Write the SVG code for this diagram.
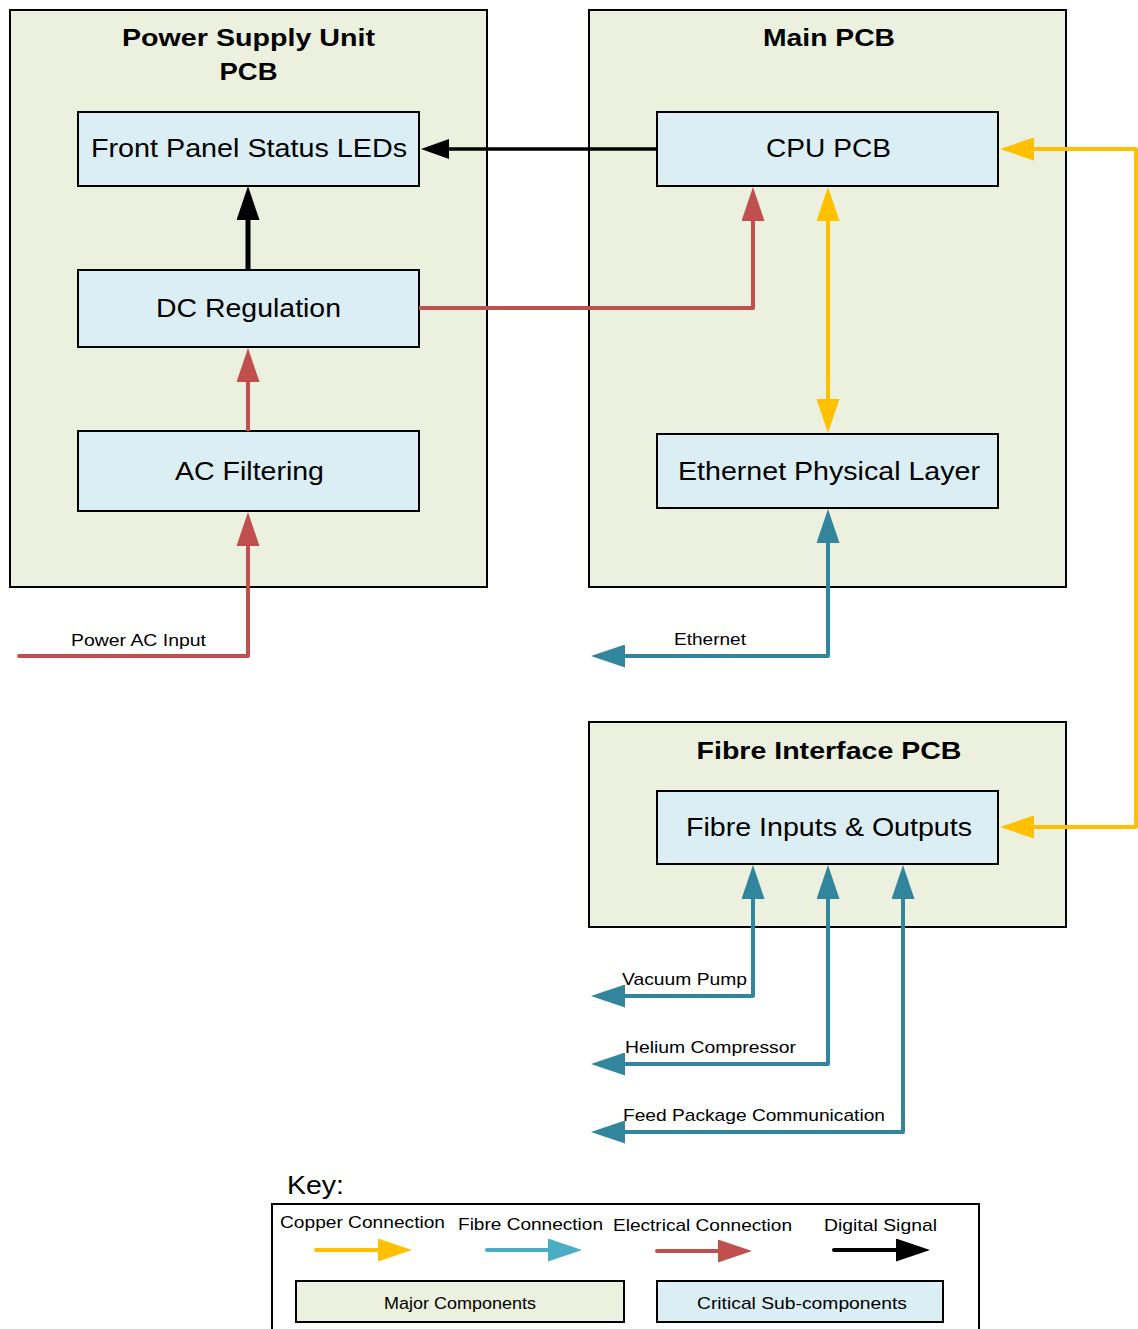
<svg xmlns="http://www.w3.org/2000/svg" width="1138" height="1329" viewBox="0 0 1138 1329">
  <style>
    .major { fill: #EBF1DE; stroke: #000; stroke-width: 2; }
    .sub { fill: #DBEEF4; stroke: #000; stroke-width: 2; }
    .title { font-family: "Liberation Sans", Arial, sans-serif; font-weight: bold; font-size: 24px; fill: #000; text-anchor: middle; }
    .label { font-family: "Liberation Sans", Arial, sans-serif; font-size: 26px; fill: #000; text-anchor: middle; }
    .small { font-family: "Liberation Sans", Arial, sans-serif; font-size: 17px; fill: #000; }
    .keyt { font-family: "Liberation Sans", Arial, sans-serif; font-size: 17px; fill: #000; }
    .wire { fill: none; stroke-width: 4; stroke-linejoin: round; }
    .copper { stroke: #FFC000; }
    .fibre { stroke: #31859C; }
    .fibre-key { stroke: #4BACC6; }
    .elec { stroke: #C0504D; }
    .digital { stroke: #000; }
  </style>
  <defs>
    <marker id="ah-copper" viewBox="0 0 34 23" markerWidth="34" markerHeight="23" refX="1" refY="11.5" markerUnits="userSpaceOnUse" orient="auto-start-reverse">
      <path d="M0,0 L34,11.5 L0,23 z" fill="#FFC000"/>
    </marker>
    <marker id="ah-fibre" viewBox="0 0 34 23" markerWidth="34" markerHeight="23" refX="1" refY="11.5" markerUnits="userSpaceOnUse" orient="auto-start-reverse">
      <path d="M0,0 L34,11.5 L0,23 z" fill="#31859C"/>
    </marker>
    <marker id="ah-fibre-key" viewBox="0 0 34 23" markerWidth="34" markerHeight="23" refX="1" refY="11.5" markerUnits="userSpaceOnUse" orient="auto-start-reverse">
      <path d="M0,0 L34,11.5 L0,23 z" fill="#4BACC6"/>
    </marker>
    <marker id="ah-elec" viewBox="0 0 34 23" markerWidth="34" markerHeight="23" refX="1" refY="11.5" markerUnits="userSpaceOnUse" orient="auto-start-reverse">
      <path d="M0,0 L34,11.5 L0,23 z" fill="#C0504D"/>
    </marker>
    <marker id="ah-digital" viewBox="0 0 34 23" markerWidth="34" markerHeight="23" refX="1" refY="11.5" markerUnits="userSpaceOnUse" orient="auto-start-reverse">
      <path d="M0,0 L34,11.5 L0,23 z" fill="#000"/>
    </marker>
    <marker id="ah-digital-s" viewBox="0 0 28 20" markerWidth="28" markerHeight="20" refX="1" refY="10" markerUnits="userSpaceOnUse" orient="auto-start-reverse">
      <path d="M0,0 L28,10 L0,20 z" fill="#000"/>
    </marker>
  </defs>

  <rect width="1138" height="1329" fill="#fff"/>

  <!-- Major components (containers) -->
  <g id="psu-pcb">
    <rect class="major" x="10" y="10" width="477" height="577"/>
    <text class="title" x="248.5" y="46" textLength="253" lengthAdjust="spacingAndGlyphs">Power Supply Unit</text>
    <text class="title" x="248.5" y="80" textLength="58" lengthAdjust="spacingAndGlyphs">PCB</text>
  </g>
  <g id="main-pcb">
    <rect class="major" x="589" y="10" width="477" height="577"/>
    <text class="title" x="829" y="46" textLength="132" lengthAdjust="spacingAndGlyphs">Main PCB</text>
  </g>
  <g id="fibre-pcb">
    <rect class="major" x="589" y="722" width="477" height="205"/>
    <text class="title" x="829" y="759" textLength="265" lengthAdjust="spacingAndGlyphs">Fibre Interface PCB</text>
  </g>

  <!-- Critical sub-components -->
  <g id="front-panel-leds">
    <rect class="sub" x="78" y="112" width="341" height="74"/>
    <text class="label" x="249" y="157" textLength="316" lengthAdjust="spacingAndGlyphs">Front Panel Status LEDs</text>
  </g>
  <g id="dc-regulation">
    <rect class="sub" x="78" y="270" width="341" height="77"/>
    <text class="label" x="248.5" y="317" textLength="185" lengthAdjust="spacingAndGlyphs">DC Regulation</text>
  </g>
  <g id="ac-filtering">
    <rect class="sub" x="78" y="431" width="341" height="80"/>
    <text class="label" x="249.5" y="480" textLength="149" lengthAdjust="spacingAndGlyphs">AC Filtering</text>
  </g>
  <g id="cpu-pcb">
    <rect class="sub" x="657" y="112" width="341" height="74"/>
    <text class="label" x="828.5" y="157" textLength="125" lengthAdjust="spacingAndGlyphs">CPU PCB</text>
  </g>
  <g id="ethernet-phy">
    <rect class="sub" x="657" y="434" width="341" height="74"/>
    <text class="label" x="829" y="480" textLength="302" lengthAdjust="spacingAndGlyphs">Ethernet Physical Layer</text>
  </g>
  <g id="fibre-io">
    <rect class="sub" x="657" y="791" width="341" height="73"/>
    <text class="label" x="829" y="836" textLength="286" lengthAdjust="spacingAndGlyphs">Fibre Inputs &amp; Outputs</text>
  </g>

  <!-- Connectors -->
  <g id="connectors">
    <path class="wire digital" style="stroke-width:3.5" d="M657,149 L448,149" marker-end="url(#ah-digital-s)"/>
    <path class="wire digital" style="stroke-width:5" d="M248,270 L248,219" marker-end="url(#ah-digital)"/>
    <path class="wire elec" d="M419,308 L753,308 L753,220" marker-end="url(#ah-elec)"/>
    <path class="wire elec" d="M248,431 L248,381" marker-end="url(#ah-elec)"/>
    <path class="wire elec" style="stroke-linecap:round" d="M19,656 L248,656 L248,545" marker-end="url(#ah-elec)"/>
    <path class="wire copper" d="M828,220 L828,400" marker-start="url(#ah-copper)" marker-end="url(#ah-copper)"/>
    <path class="wire copper" d="M1033,149 L1136,149 L1136,827 L1033,827" marker-start="url(#ah-copper)" marker-end="url(#ah-copper)"/>
    <path class="wire fibre" d="M828,542 L828,656 L624,656" marker-start="url(#ah-fibre)" marker-end="url(#ah-fibre)"/>
    <path class="wire fibre" d="M753,898 L753,996 L624,996" marker-start="url(#ah-fibre)" marker-end="url(#ah-fibre)"/>
    <path class="wire fibre" d="M828,898 L828,1064 L624,1064" marker-start="url(#ah-fibre)" marker-end="url(#ah-fibre)"/>
    <path class="wire fibre" d="M903,898 L903,1132 L624,1132" marker-start="url(#ah-fibre)" marker-end="url(#ah-fibre)"/>

    <text class="small" x="71" y="646" textLength="135" lengthAdjust="spacingAndGlyphs">Power AC Input</text>
    <text class="small" x="674" y="645" textLength="72" lengthAdjust="spacingAndGlyphs">Ethernet</text>
    <text class="small" x="622" y="985" textLength="125" lengthAdjust="spacingAndGlyphs">Vacuum Pump</text>
    <text class="small" x="625" y="1053" textLength="171" lengthAdjust="spacingAndGlyphs">Helium Compressor</text>
    <text class="small" x="623" y="1121" textLength="262" lengthAdjust="spacingAndGlyphs">Feed Package Communication</text>
  </g>

  <!-- Key -->
  <g id="key">
    <text class="keyt" style="font-size:25px" x="287" y="1194" textLength="57" lengthAdjust="spacingAndGlyphs">Key:</text>
    <rect x="272" y="1204" width="707" height="140" fill="#fff" stroke="#000" stroke-width="2"/>
    <text class="keyt" x="280" y="1228" textLength="165" lengthAdjust="spacingAndGlyphs">Copper Connection</text>
    <text class="keyt" x="458" y="1230" textLength="145" lengthAdjust="spacingAndGlyphs">Fibre Connection</text>
    <text class="keyt" x="613" y="1231" textLength="179" lengthAdjust="spacingAndGlyphs">Electrical Connection</text>
    <text class="keyt" x="824" y="1231" textLength="113" lengthAdjust="spacingAndGlyphs">Digital Signal</text>
    <path class="wire copper" style="stroke-linecap:round" d="M316,1250 L379,1250" marker-end="url(#ah-copper)"/>
    <path class="wire fibre-key" style="stroke-linecap:round" d="M487,1250 L549,1250" marker-end="url(#ah-fibre-key)"/>
    <path class="wire elec" style="stroke-linecap:round" d="M657,1251 L719,1251" marker-end="url(#ah-elec)"/>
    <path class="wire digital" style="stroke-linecap:round" d="M834,1250 L897,1250" marker-end="url(#ah-digital)"/>
    <rect class="major" x="296" y="1281" width="328" height="41"/>
    <text class="keyt" x="460" y="1309" text-anchor="middle" textLength="152" lengthAdjust="spacingAndGlyphs">Major Components</text>
    <rect class="sub" x="657" y="1281" width="286" height="41"/>
    <text class="keyt" x="802" y="1309" text-anchor="middle" textLength="210" lengthAdjust="spacingAndGlyphs">Critical Sub-components</text>
  </g>
</svg>
